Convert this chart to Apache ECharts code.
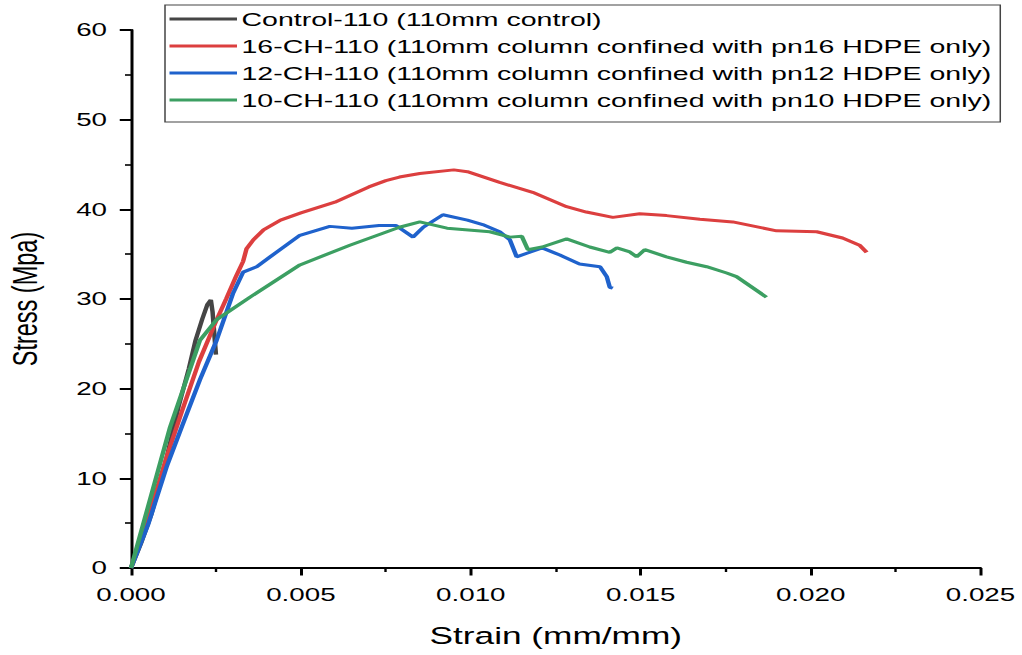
<!DOCTYPE html>
<html><head><meta charset="utf-8">
<script src="https://cdn.jsdelivr.net/npm/echarts@6/dist/echarts.min.js"></script>
<style>
html,body{margin:0;padding:0;background:#fff;overflow:hidden}
#wrap{width:1022px;height:655px;overflow:hidden}
/* the reference image is horizontally stretched 1.5x; reproduce it */
#c{width:681.33px;height:655px;transform:scaleX(1.5);transform-origin:0 0}
</style>
</head><body><div id="wrap"><div id="c"></div></div>
<script>
const seriesNames = [
  'Control-110 (110mm control)',
  '16-CH-110 (110mm column confined with pn16 HDPE only)',
  '12-CH-110 (110mm column confined with pn12 HDPE only)',
  '10-CH-110 (110mm column confined with pn10 HDPE only)'
];
const xTicks = [0, 0.005, 0.010, 0.015, 0.020, 0.025];
const yTicks = [0, 10, 20, 30, 40, 50, 60];

const control110 = [[0,0],[0.0003,2.8],[0.0006,6],[0.001,11.5],[0.0014,18],[0.0017,22.2],[0.0019,25.4],[0.0021,27.8],[0.00225,29.4],[0.00235,29.9],[0.0024,28.6],[0.00245,26.2],[0.0025,23.8]];
const ch16 = [[0,0],[0.0005,5.5],[0.001,11.8],[0.0015,17.5],[0.002,23],[0.0025,27.5],[0.0028,30],[0.0031,32.6],[0.0033,34.2],[0.0034,35.6],[0.0036,36.6],[0.0039,37.7],[0.0044,38.8],[0.005,39.6],[0.006,40.8],[0.007,42.5],[0.0075,43.2],[0.0079,43.6],[0.0085,44.0],[0.0095,44.4],[0.0099,44.2],[0.01085,43.0],[0.01182,41.9],[0.01282,40.3],[0.0134,39.7],[0.01418,39.1],[0.01497,39.5],[0.01576,39.3],[0.01674,38.9],[0.01771,38.6],[0.019,37.6],[0.02018,37.5],[0.02094,36.8],[0.02144,36.0],[0.02165,35.2]];
const ch12 = [[0,0],[0.0005,4.8],[0.00105,11.3],[0.0015,15.8],[0.00203,21.0],[0.00252,25.4],[0.003,30.6],[0.0033,33.0],[0.0037,33.6],[0.0042,35.0],[0.00497,37.1],[0.00585,38.1],[0.0065,37.9],[0.0073,38.2],[0.0078,38.2],[0.0083,36.9],[0.0086,38.0],[0.00918,39.4],[0.0099,38.8],[0.01035,38.3],[0.01085,37.5],[0.01115,36.6],[0.01135,34.7],[0.01165,35.1],[0.0121,35.7],[0.01262,34.9],[0.0132,33.9],[0.0138,33.6],[0.014,32.5],[0.01409,31.3],[0.01418,31.2]];
const ch10 = [[0,0],[0.0005,6.8],[0.00115,15.7],[0.00203,25.4],[0.00252,27.7],[0.0035,30.2],[0.00497,33.8],[0.00644,36.0],[0.0079,38.0],[0.0085,38.6],[0.0093,37.9],[0.01056,37.5],[0.01115,36.9],[0.0115,37.0],[0.01168,35.5],[0.0121,35.8],[0.01282,36.7],[0.0135,35.8],[0.01409,35.2],[0.0143,35.7],[0.01468,35.25],[0.01488,34.7],[0.01512,35.5],[0.01576,34.7],[0.01635,34.1],[0.01694,33.6],[0.01753,32.9],[0.01782,32.5],[0.0187,30.2]];

const colors = ['#454545','#dc3f3f','#1f62cc','#3c9f62'];
const dataSets = [control110, ch16, ch12, ch10];
const FONT = 'Liberation Sans, Arial, sans-serif';

const chart = echarts.init(document.getElementById('c'), null, {renderer:'svg'});
const axisCommon = {
  axisLine:{show:true,onZero:false,lineStyle:{color:'#000',width:2}},
  axisTick:{show:true,inside:false,length:7.5,lineStyle:{color:'#000',width:2}},
  minorTick:{show:true,splitNumber:2,length:4,lineStyle:{color:'#000',width:1.6}},
  splitLine:{show:false}
};
chart.setOption({
  animation:false,
  backgroundColor:'#fff',
  grid:{left:87.33,right:27.33,top:30,bottom:87,containLabel:false,outerBoundsMode:'none'},
  legend:{
    orient:'vertical',left:110,top:5,
    itemWidth:45,itemHeight:3,itemGap:7,icon:'rect',
    borderColor:'#444',borderWidth:1,padding:[4,6,12,3],
    textStyle:{fontSize:19,lineHeight:20,color:'#000',fontFamily:FONT,padding:[0,0,0,-2]},
    data:seriesNames
  },
  xAxis:Object.assign({type:'value',min:0,max:0.025,interval:0.005,
    name:'Strain (mm/mm)',nameLocation:'middle',nameGap:56,
    nameTextStyle:{fontSize:23.5,color:'#000',fontFamily:FONT},
    axisLabel:{color:'#000',fontSize:18.5,fontFamily:FONT,margin:17,formatter:v=>v.toFixed(3)}},
    axisCommon),
  yAxis:Object.assign({type:'value',min:0,max:60,interval:10,
    name:'Stress (Mpa)',nameLocation:'middle',nameGap:59,
    nameTextStyle:{fontSize:23.5,color:'#000',fontFamily:FONT},
    axisLabel:{color:'#000',fontSize:18.5,fontFamily:FONT,margin:16}},axisCommon),
  series:dataSets.map((d,i)=>({
    name:seriesNames[i],type:'line',data:d,showSymbol:false,symbol:'none',
    lineStyle:{width:3,color:colors[i]},itemStyle:{color:colors[i]},z:2+i
  }))
});
</script></body></html>
